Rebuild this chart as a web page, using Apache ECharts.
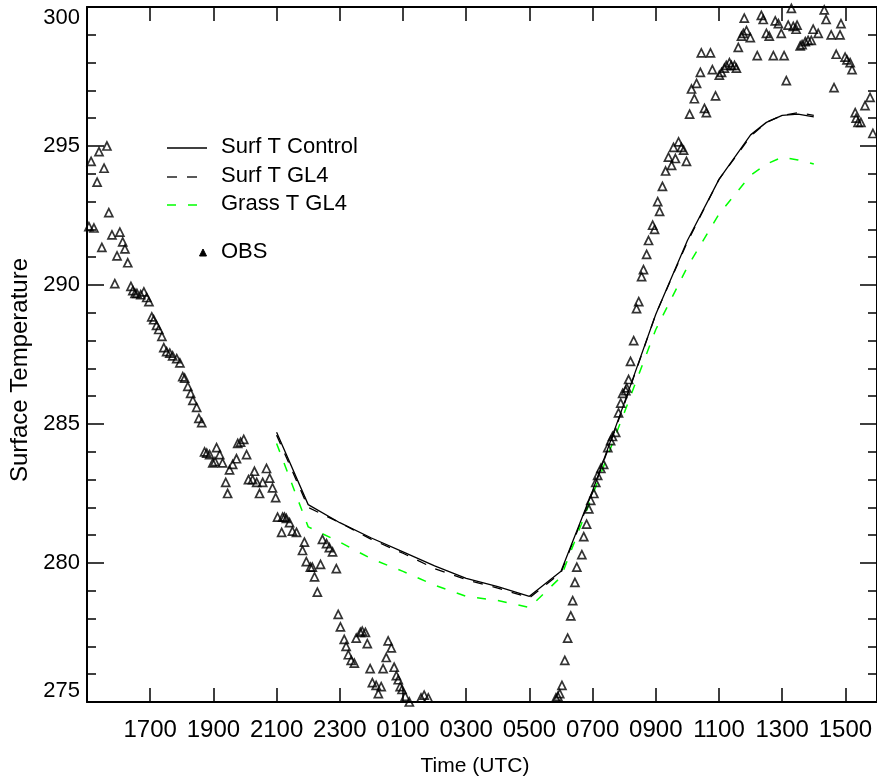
<!DOCTYPE html>
<html>
<head>
<meta charset="utf-8">
<title>Surface Temperature</title>
<script src="https://cdn.jsdelivr.net/npm/echarts/dist/echarts.min.js"></script>
<style>
  html, body { margin: 0; padding: 0; background: #fff; }
  #chart { width: 877px; height: 779px; }
</style>
</head>
<body>
<div id="chart"></div>
<script>
// time axis is hours since 1500 UTC on the first day
const xTickHours = [2, 4, 6, 8, 10, 12, 14, 16, 18, 20, 22, 24];

// model runs, hourly
const modelTime = [6, 7, 8, 9, 10, 11, 12, 13, 14, 15, 16, 17, 18, 19, 20, 21, 21.5, 22, 22.5, 23];
const surfControl = [284.7, 282.1, 281.45, 280.9, 280.4, 279.9, 279.45, 279.15, 278.8, 279.7,
  282.6, 285.75, 288.95, 291.6, 293.8, 295.4, 295.85, 296.1, 296.15, 296.05];
const surfGL4 = [284.6, 282.0, 281.45, 280.85, 280.35, 279.8, 279.4, 279.1, 278.75, 279.65,
  282.55, 285.7, 288.95, 291.55, 293.8, 295.35, 295.85, 296.1, 296.2, 296.1];
const grassGL4 = [284.3, 281.3, 280.75, 280.15, 279.7, 279.2, 278.8, 278.65, 278.4, 279.5,
  282.45, 285.4, 288.4, 290.65, 292.55, 293.95, 294.35, 294.6, 294.5, 294.35];

// observations
const obsTime = [
  0.06, 0.13, 0.22, 0.32, 0.38, 0.47, 0.54, 0.63, 0.69, 0.79, 0.88, 0.95, 1.04, 1.13, 1.2, 1.29,
  1.39, 1.45, 1.52, 1.58, 1.7, 1.8, 1.89, 1.96, 2.05, 2.11, 2.2, 2.27, 2.37, 2.43, 2.52, 2.62,
  2.71, 2.84, 2.94, 3.03, 3.09, 3.19, 3.28, 3.35, 3.47, 3.54, 3.63, 3.72, 3.79, 3.88, 3.98, 4.05,
  4.1, 4.2, 4.29, 4.39, 4.45, 4.51, 4.61, 4.73, 4.77, 4.86, 4.96, 5.05, 5.11, 5.24, 5.3, 5.37,
  5.46, 5.56, 5.68, 5.78, 5.87, 5.97, 6.03, 6.16, 6.19, 6.25, 6.31, 6.41, 6.5, 6.63, 6.82, 6.88,
  6.94, 7.07, 7.13, 7.2, 7.29, 7.39, 7.45, 7.58, 7.67, 7.77, 7.89, 7.95, 8.02, 8.14, 8.2, 8.27,
  8.36, 8.46, 8.52, 8.65, 8.71, 8.81, 8.87, 8.96, 9.03, 9.15, 9.22, 9.31, 9.37, 9.47, 9.53, 9.63,
  9.72, 9.79, 9.85, 9.91, 9.97, 10.07, 10.2, 10.57, 10.67, 10.8,
  14.84, 14.9, 14.96, 15.03, 15.12, 15.21, 15.31, 15.37, 15.44, 15.5, 15.66, 15.72, 15.81, 15.88,
  15.94, 16.04, 16.1, 16.16, 16.26, 16.35, 16.48, 16.57, 16.63, 16.73, 16.82, 16.89, 16.95, 17.05,
  17.08, 17.14, 17.2, 17.3, 17.39, 17.46, 17.55, 17.61, 17.71, 17.77, 17.9, 17.96, 18.06, 18.12,
  18.21, 18.31, 18.4, 18.5, 18.56, 18.62, 18.72, 18.81, 18.88, 18.97, 19.07, 19.13, 19.22, 19.29,
  19.41, 19.44, 19.54, 19.6, 19.73, 19.79, 19.89, 20.01, 20.08, 20.17, 20.23, 20.33, 20.39, 20.49,
  20.55, 20.61, 20.71, 20.77, 20.8, 20.87, 20.99, 21.21, 21.34, 21.4, 21.5, 21.59, 21.72, 21.78,
  21.88, 21.97, 22.06, 22.13, 22.19, 22.29, 22.35, 22.44, 22.47, 22.57, 22.63, 22.73, 22.82, 22.92,
  22.98, 23.14, 23.33, 23.39, 23.55, 23.64, 23.71, 23.83, 23.86, 23.99, 24.05, 24.15, 24.21, 24.31,
  24.34, 24.4, 24.49, 24.62, 24.78, 24.87
];
const obsTemp = [
  292.1, 294.45, 292.05, 293.7, 294.8, 291.35, 294.2, 295.0, 292.6, 291.8, 290.05, 291.05, 291.9, 291.55, 291.3, 290.8,
  289.95, 289.8, 289.7, 289.7, 289.65, 289.75, 289.55, 289.4, 288.85, 288.75, 288.55, 288.4, 288.15, 287.75, 287.6, 287.55,
  287.45, 287.35, 287.2, 286.7, 286.65, 286.35, 286.1, 285.85, 285.6, 285.2, 285.05, 284.0, 283.95, 283.9, 283.6, 283.65,
  284.15, 283.9, 283.6, 282.9, 282.5, 283.35, 283.55, 283.75, 284.3, 284.35, 284.45, 283.9, 283.0, 283.0, 283.3, 282.9,
  282.5, 282.9, 283.4, 283.05, 282.7, 282.35, 281.65, 281.1, 281.65, 281.65, 281.6, 281.45, 281.15, 281.1, 280.45, 280.75,
  280.05, 279.85, 279.85, 279.5, 278.95, 279.95, 280.85, 280.7, 280.55, 280.4, 279.8, 278.15, 277.7, 277.25, 277.0, 276.7,
  276.5, 276.4, 277.3, 277.5, 277.55, 277.5, 277.1, 276.2, 275.7, 275.6, 275.3, 275.55, 276.2, 276.6, 277.2, 276.95,
  276.25, 275.95, 275.8, 275.55, 275.45, 275.2, 275.0, 275.15, 275.25, 275.15,
  275.15, 275.2, 275.3, 275.6, 276.5, 277.3, 278.1, 278.65, 279.3, 279.85, 280.3, 280.95, 281.4, 281.95,
  282.25, 282.5, 282.9, 283.15, 283.4, 283.55, 284.15, 284.4, 284.55, 284.7, 285.4, 285.75, 286.1, 286.2,
  286.3, 286.6, 287.25, 288.0, 289.15, 289.4, 290.3, 290.55, 291.1, 291.6, 292.15, 292.0, 293.0, 292.65,
  293.55, 294.1, 294.6, 294.3, 294.95, 294.55, 295.15, 294.95, 294.85, 294.45, 296.15, 297.05, 296.7, 297.25,
  297.65, 298.35, 296.35, 296.2, 298.35, 297.75, 296.8, 297.55, 297.65, 297.8, 297.9, 298.0, 297.9, 297.9,
  297.8, 298.55, 298.95, 299.05, 299.6, 299.15, 298.9, 298.25, 299.7, 299.55, 299.05, 298.95, 298.25, 299.5,
  299.4, 299.05, 298.25, 297.35, 299.35, 299.95, 299.3, 299.2, 299.35, 298.6, 298.65, 298.75, 298.8, 298.8,
  299.2, 299.05, 299.9, 299.55, 299.0, 297.1, 298.3, 299.0, 299.4, 298.2, 298.1, 298.0, 297.75, 296.2,
  296.0, 295.85, 295.85, 296.45, 296.75, 295.45
];

const FONT = 'Liberation Sans';

function hhmm(v) {
  const h = (15 + v) % 24;
  return (h < 10 ? '0' : '') + h + '00';
}

const zip = (xs, ys) => xs.map((x, i) => [x, ys[i]]);

const chart = echarts.init(document.getElementById('chart'), null, { renderer: 'canvas' });

// onZero off, otherwise the right y axis jumps to x = 0
const axisLine = { show: true, onZero: false, lineStyle: { color: '#000', width: 2 } };
const xTick = { show: true, inside: true, length: 14, lineStyle: { color: '#000', width: 1.5 } };
const yTick = { show: true, inside: true, length: 17, lineStyle: { color: '#000', width: 1.5 } };
const yMinor = { show: true, splitNumber: 5, length: 9, lineStyle: { color: '#000', width: 1.5 } };

const option = {
  backgroundColor: '#fff',
  animation: false,
  grid: { left: 87, top: 7, width: 792, height: 695, containLabel: false },
  xAxis: [
    {
      type: 'value', position: 'bottom', min: 0, max: 25, interval: 2,
      axisLine: axisLine, axisTick: xTick,
      axisLabel: {
        show: true, margin: 16, fontFamily: FONT, fontSize: 24, color: '#000',
        showMinLabel: false, showMaxLabel: false,
        formatter: v => (xTickHours.includes(v) ? hhmm(v) : '')
      },
      splitLine: { show: false }
    },
    {
      type: 'value', position: 'top', min: 0, max: 25, interval: 2,
      axisLine: axisLine, axisTick: xTick,
      axisLabel: { show: false },
      splitLine: { show: false }
    }
  ],
  yAxis: [
    {
      type: 'value', position: 'left', min: 275, max: 300, interval: 5,
      axisLine: axisLine, axisTick: yTick, minorTick: yMinor,
      axisLabel: {
        margin: 7, fontFamily: FONT, fontSize: 22, color: '#000',
        verticalAlignMinLabel: 'bottom', verticalAlignMaxLabel: 'top'
      },
      splitLine: { show: false }
    },
    {
      type: 'value', position: 'right', min: 275, max: 300, interval: 5,
      axisLine: axisLine, axisTick: yTick, minorTick: yMinor,
      axisLabel: { show: false },
      splitLine: { show: false }
    }
  ],
  series: [
    {
      name: 'Surf T Control', type: 'line', data: zip(modelTime, surfControl),
      symbol: 'none', lineStyle: { color: '#000', width: 1.3, type: 'solid' }, z: 3
    },
    {
      name: 'Surf T GL4', type: 'line', data: zip(modelTime, surfGL4),
      symbol: 'none', lineStyle: { color: '#000', width: 1.3, type: [10, 10] }, z: 3
    },
    {
      name: 'Grass T GL4', type: 'line', data: zip(modelTime, grassGL4),
      symbol: 'none', lineStyle: { color: '#00ff00', width: 1.5, type: [9, 12] }, z: 3
    },
    {
      name: 'OBS', type: 'scatter', data: zip(obsTime, obsTemp),
      symbol: 'triangle', symbolSize: [8, 8],
      itemStyle: { color: 'rgba(255,255,255,0)', borderColor: '#000', borderWidth: 1.7 },
      z: 4
    }
  ],
  graphic: [
    // legend
    { type: 'line', shape: { x1: 167, y1: 148, x2: 207, y2: 148 }, style: { stroke: '#000', lineWidth: 1.3 } },
    { type: 'line', shape: { x1: 167, y1: 177, x2: 207, y2: 177 }, style: { stroke: '#000', lineWidth: 1.3, lineDash: [10, 10] } },
    { type: 'line', shape: { x1: 167, y1: 205, x2: 207, y2: 205 }, style: { stroke: '#00ff00', lineWidth: 1.5, lineDash: [9, 12] } },
    { type: 'polygon', shape: { points: [[203, 249], [199.5, 256], [206.5, 256]] }, style: { fill: '#000', stroke: '#000', lineWidth: 1 } },
    { type: 'text', left: 221, top: 136, style: { text: 'Surf T Control', font: '22px ' + FONT, fill: '#000' } },
    { type: 'text', left: 221, top: 165, style: { text: 'Surf T GL4', font: '22px ' + FONT, fill: '#000' } },
    { type: 'text', left: 221, top: 193, style: { text: 'Grass T GL4', font: '22px ' + FONT, fill: '#000' } },
    { type: 'text', left: 221, top: 241, style: { text: 'OBS', font: '22px ' + FONT, fill: '#000' } },
    // axis names
    {
      type: 'text', x: 475, y: 766,
      style: { text: 'Time (UTC)', font: '21px ' + FONT, fill: '#000', align: 'center', verticalAlign: 'middle' }
    },
    {
      type: 'text', x: 20, y: 370, rotation: Math.PI / 2,
      style: { text: 'Surface Temperature', font: '24px ' + FONT, fill: '#000', align: 'center', verticalAlign: 'middle' }
    }
  ]
};

chart.setOption(option);
window.addEventListener('resize', () => chart.resize());
</script>
</body>
</html>
